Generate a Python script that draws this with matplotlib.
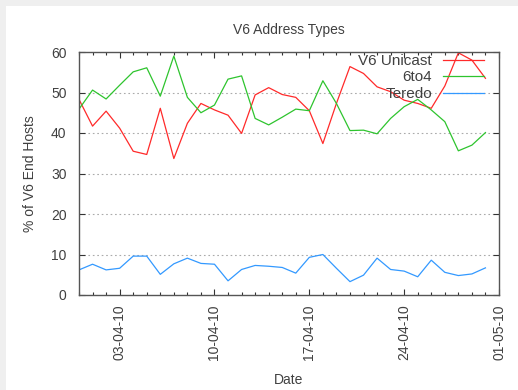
import datetime as dt
import matplotlib
matplotlib.use('Agg')
import matplotlib.pyplot as plt
import matplotlib.dates as mdates
from matplotlib.patches import Rectangle

plt.rcParams['font.family'] = ['Liberation Sans', 'DejaVu Sans']
plt.rcParams['font.size'] = 10
txt_col = '#404040'

# daily samples, 31-03-2010 .. 30-04-2010
start = dt.date(2010, 3, 31)
days = [start + dt.timedelta(days=i) for i in range(31)]

v6_unicast = [48.3, 41.7, 45.4, 41.2, 35.5, 34.7, 46.1, 33.7, 42.4, 47.3,
              45.7, 44.4, 39.9, 49.4, 51.2, 49.5, 48.8, 45.5, 37.4, 47.3,
              56.4, 54.7, 51.4, 50.2, 48.1, 47.3, 46.1, 51.6, 59.8, 58.0,
              53.5]
sixto4 = [45.9, 50.6, 48.4, 51.8, 55.1, 56.1, 49.1, 59.0, 48.8, 45.0,
          46.9, 53.3, 54.1, 43.6, 42.0, 43.9, 45.9, 45.5, 52.9, 47.3,
          40.6, 40.7, 39.8, 43.6, 46.5, 48.3, 45.7, 42.8, 35.6, 37.0,
          40.1]
teredo = [6.2, 7.6, 6.2, 6.6, 9.6, 9.6, 5.1, 7.7, 9.1, 7.8,
          7.6, 3.5, 6.3, 7.3, 7.1, 6.8, 5.4, 9.3, 10.0, 6.6,
          3.3, 4.9, 9.1, 6.3, 5.9, 4.5, 8.6, 5.6, 4.8, 5.2,
          6.7]

fig = plt.figure(figsize=(5.18, 3.9), dpi=100, facecolor='#efefef')
# white page area with thin grey margin top/left
fig.patches.append(Rectangle((6/518, 0), 1 - 6/518, 1 - 6/390,
                             transform=fig.transFigure, facecolor='white',
                             edgecolor='none', zorder=-10))
ax = fig.add_axes([79/518, 1 - 295/390, 420/518, 243/390])
ax.set_facecolor('white')

ax.plot(days, v6_unicast, color='#ff2a2a', lw=0.9, label='V6 Unicast')
ax.plot(days, sixto4, color='#2ec42e', lw=0.9, label='6to4')
ax.plot(days, teredo, color='#3399ff', lw=0.9, label='Teredo')

ax.set_xlim(mdates.date2num(dt.date(2010, 3, 31)), mdates.date2num(dt.date(2010, 5, 1)))
ax.set_ylim(0, 60)
ax.set_yticks(range(0, 61, 10))

ax.xaxis.set_major_locator(mdates.WeekdayLocator(byweekday=mdates.SA))
ax.xaxis.set_minor_locator(mdates.DayLocator())
ax.xaxis.set_major_formatter(mdates.DateFormatter('%d-%m-%y'))

for lbl in ax.get_xticklabels():
    lbl.set_rotation(90)

ax.tick_params(which='both', direction='in', top=True, right=True,
               colors='#333333', labelcolor=txt_col, labelsize=10)
ax.tick_params(which='major', length=4, width=0.8)
ax.tick_params(which='minor', length=2, width=0.8)
ax.tick_params(axis='x', which='major', pad=7)
ax.tick_params(axis='y', which='major', pad=9)

for s in ax.spines.values():
    s.set_color('#555555')
    s.set_linewidth(1.0)

for yv in range(10, 60, 10):
    ax.axhline(yv, color='#aaaaaa', lw=0.8, ls=(0, (1.5, 2.5)), zorder=0)

ax.set_title('V6 Address Types', color=txt_col, fontsize=10, pad=13)
ax.set_ylabel('% of V6 End Hosts', color=txt_col, labelpad=10)
ax.set_xlabel('Date', color=txt_col, labelpad=9)

leg = ax.legend(loc='upper right', bbox_to_anchor=(1 - 15/420, 1 - 2/243),
                frameon=False, markerfirst=False, handlelength=2.7,
                handletextpad=0.7, labelspacing=0.16, borderpad=0,
                borderaxespad=0, fontsize=11)
for t in leg.get_texts():
    t.set_color(txt_col)

fig.savefig('out.png', dpi=100, facecolor=fig.get_facecolor())
